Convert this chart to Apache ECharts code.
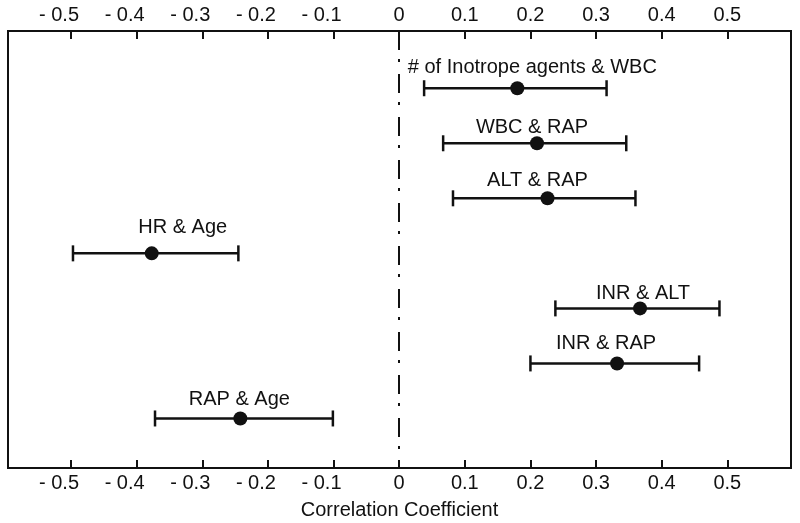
<!DOCTYPE html>
<html>
<head>
<meta charset="utf-8">
<script src="https://cdn.jsdelivr.net/npm/echarts@6/dist/echarts.min.js"></script>
<style>html,body{margin:0;padding:0;background:#fff}#c{width:800px;height:523px}</style>
</head>
<body>
<div id="c"></div>
<script>
// ---- data ----
const pairs = ['# of Inotrope agents & WBC', 'WBC & RAP', 'ALT & RAP', 'HR & Age', 'INR & ALT', 'INR & RAP', 'RAP & Age'];
const rowIndex = [1, 2, 3, 4, 5, 6, 7];
const coef  = [0.180, 0.210, 0.226, -0.377, 0.367, 0.332, -0.242];
const lower = [0.038, 0.067, 0.082, -0.497, 0.238, 0.200, -0.372];
const upper = [0.316, 0.346, 0.360, -0.245, 0.488, 0.457, -0.101];
const tickValues = [-0.5, -0.4, -0.3, -0.2, -0.1, 0, 0.1, 0.2, 0.3, 0.4, 0.5];
const tickLabels = ['- 0.5', '- 0.4', '- 0.3', '- 0.2', '- 0.1', '0', '0.1', '0.2', '0.3', '0.4', '0.5'];
const axisTitle = 'Correlation Coefficient';

// ---- layout (label offsets in px relative to point) ----
const labelDx = [15, -5, -10, 31, 3, -11, -1];
const labelDy = [21, 16, 18, 26, 15, 20, 19];

const FONT = '"Liberation Sans", Arial, sans-serif';
const INK = '#111';

const data = pairs.map((p, i) => [coef[i], rowIndex[i], lower[i], upper[i], i]);

function fmt(v) {
  const k = tickValues.findIndex(t => Math.abs(t - v) < 1e-6);
  if (k < 0) return '';
  return (tickValues[k] < 0 ? '{neg|' : '{pos|') + tickLabels[k] + '}';
}
const labelRich = {
  neg: { color: INK, fontSize: 20, fontFamily: FONT, padding: [0, 24, 0, 0] },
  pos: { color: INK, fontSize: 20, fontFamily: FONT }
};

const xCommon = {
  type: 'value', min: -0.596, max: 0.597,
  axisLine: { show: true, onZero: false, lineStyle: { color: INK, width: 2 } },
  axisTick: { show: true, inside: true, length: 8, customValues: tickValues, lineStyle: { color: INK, width: 2 } },
  axisLabel: { show: true, customValues: tickValues, formatter: fmt, color: INK, fontSize: 20, fontFamily: FONT, rich: labelRich },
  splitLine: { show: false }
};

const chart = echarts.init(document.getElementById('c'), null, { renderer: 'canvas' });
chart.setOption({
  animation: false,
  grid: { left: 8, right: 9, top: 31, bottom: 55, show: true, borderColor: INK, borderWidth: 2,
          containLabel: false, outerBoundsMode: 'none' },
  xAxis: [
    Object.assign({}, xCommon, { position: 'bottom', name: axisTitle, nameLocation: 'middle', nameGap: 32,
      nameTextStyle: { color: INK, fontSize: 20, fontFamily: FONT },
      axisLabel: Object.assign({}, xCommon.axisLabel, { margin: 5 }) }),
    Object.assign({}, xCommon, { position: 'top',
      axisLabel: Object.assign({}, xCommon.axisLabel, { margin: 6 }) })
  ],
  yAxis: { type: 'value', min: -0.04, max: 7.9, inverse: true, show: false },
  series: [{
    type: 'custom',
    xAxisIndex: 0,
    data: data,
    renderItem: function (params, api) {
      const y = api.value(1);
      const c = api.coord([api.value(0), y]);
      const l = api.coord([api.value(2), y]);
      const u = api.coord([api.value(3), y]);
      const i = api.value(4);
      const cap = 8;
      const ls = { stroke: INK, lineWidth: 2.5 };
      return {
        type: 'group',
        children: [
          { type: 'line', shape: { x1: l[0], y1: l[1], x2: u[0], y2: u[1] }, style: ls },
          { type: 'line', shape: { x1: l[0], y1: l[1] - cap, x2: l[0], y2: l[1] + cap }, style: ls },
          { type: 'line', shape: { x1: u[0], y1: u[1] - cap, x2: u[0], y2: u[1] + cap }, style: ls },
          { type: 'circle', shape: { cx: c[0], cy: c[1], r: 7 }, style: { fill: INK } },
          { type: 'text', style: { text: pairs[i], x: c[0] + labelDx[i], y: c[1] - labelDy[i],
              align: 'center', verticalAlign: 'middle', fill: INK, fontSize: 20, fontFamily: FONT } }
        ]
      };
    },
    markLine: {
      silent: true, symbol: 'none', label: { show: false },
      lineStyle: { color: INK, width: 2, type: [19, 9, 3, 12] },
      data: [{ xAxis: 0 }]
    }
  }]
});
</script>
</body>
</html>
